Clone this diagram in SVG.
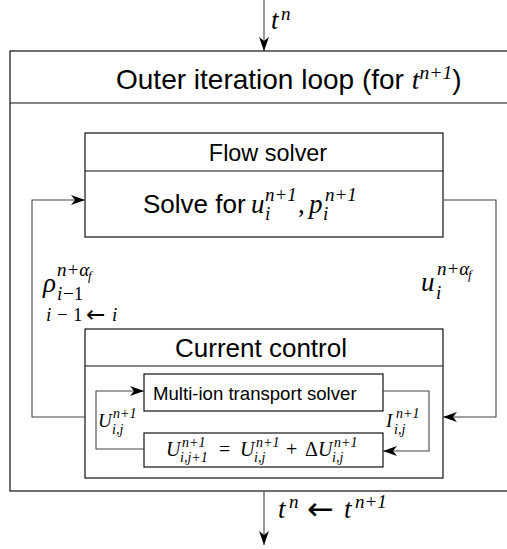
<svg xmlns="http://www.w3.org/2000/svg" width="507" height="549" viewBox="0 0 507 549">
<style>
.box{fill:#fff;stroke:#111;stroke-width:1.2}
.div{stroke:#111;stroke-width:1.2}
.con{fill:none;stroke:#444;stroke-width:1.1}
.sans{font-family:"Liberation Sans",Arial,sans-serif;fill:#000}
.mi{font-family:"Liberation Serif","Times New Roman",serif;font-style:italic;fill:#000}
.mr{font-family:"Liberation Serif","Times New Roman",serif;font-style:normal;fill:#000}
.ar{font-family:"DejaVu Sans",sans-serif;font-style:normal;fill:#000}
.L{font-size:27px}
.S{font-size:19px}
.T{font-size:14px}
.X{font-size:13px}
</style>
<defs>
<marker id="arr" viewBox="0 0 14 10" refX="14" refY="5" markerWidth="14" markerHeight="10" markerUnits="userSpaceOnUse" orient="auto">
<path d="M0,0 L14,5 L0,10 L4,5 Z" fill="#000"/>
</marker>
</defs>

<g id="outer">
<rect class="box" x="10" y="51" width="560" height="440"/>
<line class="div" x1="10" y1="103" x2="507" y2="103"/>
<text class="sans" font-size="28" x="116" y="89">Outer iteration loop (for <tspan class="mi">t</tspan><tspan class="mi" font-size="19.5" dy="-10">n+1</tspan><tspan dy="10">)</tspan></text>
</g>

<g id="flow">
<rect class="box" x="85" y="133" width="358" height="104"/>
<line class="div" x1="85" y1="171" x2="443" y2="171"/>
<text class="sans" font-size="23.4" x="268" y="161" text-anchor="middle">Flow solver</text>
<text class="sans" font-size="26" x="143" y="213">Solve for</text>
<text class="L"><tspan class="mi" x="251" y="213">u</tspan><tspan class="mi S" x="265" y="220">i</tspan><tspan class="mi S" x="265" y="201">n+1</tspan><tspan class="mr" x="298" y="213">,</tspan><tspan class="mi" x="309" y="213">p</tspan><tspan class="mi S" x="323" y="220">i</tspan><tspan class="mi S" x="325" y="201">n+1</tspan></text>
</g>

<g id="current">
<rect class="box" x="85" y="329" width="358" height="149"/>
<line class="div" x1="85" y1="366" x2="443" y2="366"/>
<text class="sans" font-size="26" x="261" y="357" text-anchor="middle">Current control</text>
</g>

<g id="transport">
<rect class="box" x="144" y="374" width="239" height="37"/>
<text class="sans" font-size="18.6" x="153" y="400">Multi-ion transport solver</text>
</g>

<g id="update">
<rect class="box" x="144" y="433" width="239" height="34"/>
<text font-size="20"><tspan class="mi" x="166" y="456">U</tspan><tspan class="mi T" x="180" y="462">i,j+1</tspan><tspan class="mi T" x="182" y="447">n+1</tspan><tspan class="mr" x="219" y="456">=</tspan><tspan class="mi" x="240" y="456">U</tspan><tspan class="mi T" x="254" y="462">i,j</tspan><tspan class="mi T" x="256" y="447">n+1</tspan><tspan class="mr" x="286" y="456">+</tspan><tspan class="mr" x="305" y="456">Δ</tspan><tspan class="mi" x="318" y="456">U</tspan><tspan class="mi T" x="332" y="462">i,j</tspan><tspan class="mi T" x="334" y="447">n+1</tspan></text>
</g>

<g id="connectors">
<path class="con" d="M264,0 V51" marker-end="url(#arr)"/>
<path class="con" d="M264,491 V545" marker-end="url(#arr)"/>
<path class="con" d="M85,417 H32 V200 H85" marker-end="url(#arr)"/>
<path class="con" d="M443,200 H496 V417 H443" marker-end="url(#arr)"/>
<path class="con" d="M144,449 H96 V391 H144" marker-end="url(#arr)"/>
<path class="con" d="M383,391 H429 V451 H383" marker-end="url(#arr)"/>
</g>

<g id="labels">
<text class="L"><tspan class="mi" x="271" y="29">t</tspan><tspan class="mi S" x="281" y="20">n</tspan></text>
<text class="L"><tspan class="mi" x="43" y="292">ρ</tspan><tspan class="mi S" x="57" y="276">n+α</tspan><tspan class="mi X" x="88" y="280">f</tspan><tspan class="mi S" x="57" y="300">i</tspan><tspan class="mr S" x="63" y="300">−1</tspan></text>
<text class="S"><tspan class="mi" x="46" y="321">i</tspan><tspan class="mr" x="57" y="321">−</tspan><tspan class="mr" x="73" y="321">1</tspan><tspan class="ar" font-size="23" x="86" y="322">←</tspan><tspan class="mi" x="112" y="321">i</tspan></text>
<text class="L"><tspan class="mi" x="421" y="291">u</tspan><tspan class="mi S" x="436" y="299">i</tspan><tspan class="mi S" x="437" y="275">n+α</tspan><tspan class="mi X" x="468" y="279">f</tspan></text>
<text font-size="19"><tspan class="mi" x="98" y="427">U</tspan><tspan class="mi T" x="112" y="434">i,j</tspan><tspan class="mi T" x="113" y="418">n+1</tspan></text>
<text font-size="19"><tspan class="mi" x="386" y="427">I</tspan><tspan class="mi T" x="394" y="434">i,j</tspan><tspan class="mi T" x="396" y="418">n+1</tspan></text>
<text class="L"><tspan class="mi" x="278" y="518">t</tspan><tspan class="mi S" x="289" y="508">n</tspan><tspan class="ar" font-size="32" x="307" y="520">←</tspan><tspan class="mi" x="344" y="518">t</tspan><tspan class="mi S" x="355" y="508">n+1</tspan></text>
</g>
</svg>
